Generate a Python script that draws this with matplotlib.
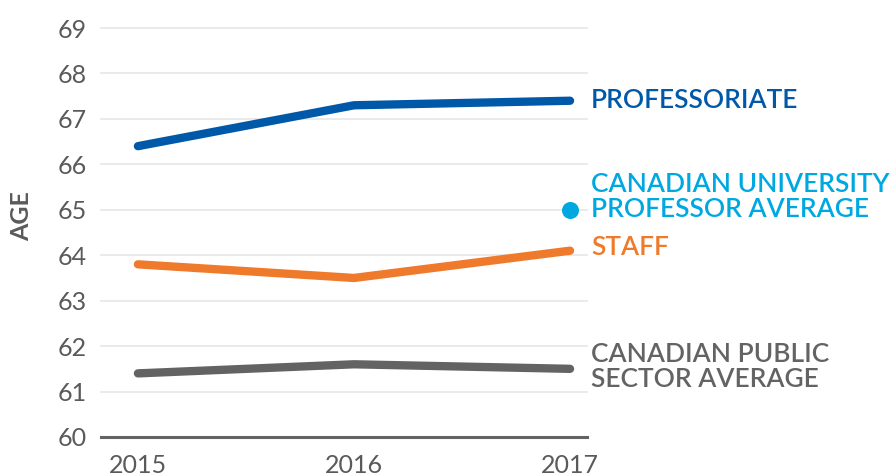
import matplotlib
import matplotlib.pyplot as plt

matplotlib.use("Agg")

years = [2015, 2016, 2017]
professoriate = [66.4, 67.3, 67.4]
staff = [63.8, 63.5, 64.1]
public_sector = [61.4, 61.6, 61.5]
univ_prof_avg = 65.0

COLORS = {
    "prof": "#0059A8",
    "univ": "#00A8E1",
    "staff": "#F07A2B",
    "public": "#636363",
    "text": "#5A5A5A",
    "grid": "#E6E6E6",
}

plt.rcParams.update({
    "font.family": ["Lato", "DejaVu Sans"],
    "font.size": 18,
})

fig = plt.figure(figsize=(8.92, 4.75), dpi=100)
ax = fig.add_axes([0.1132, 0.08, 0.545, 0.861])

for vals, key in [(public_sector, "public"), (staff, "staff"), (professoriate, "prof")]:
    ax.plot(years, vals, color=COLORS[key], lw=6, solid_capstyle="round", zorder=3)
ax.scatter([years[-1]], [univ_prof_avg], s=150, color=COLORS["univ"], zorder=3, linewidths=0)

ax.set_xlim(2014.829, 2017.079)
ax.set_ylim(60, 69)
ax.set_yticks(range(60, 70))
ax.set_xticks(years)
ax.set_xticklabels([str(y) for y in years])
ax.tick_params(length=0, labelcolor=COLORS["text"], labelsize=18)
ax.tick_params(axis="y", pad=10)
ax.tick_params(axis="x", pad=12)
ax.grid(axis="y", color=COLORS["grid"], lw=1.2, clip_on=False)
ax.set_axisbelow(True)
for s in ["top", "right", "left"]:
    ax.spines[s].set_visible(False)
ax.spines["bottom"].set_color(COLORS["public"])
ax.spines["bottom"].set_linewidth(2.2)

ax.set_ylabel("AGE", color=COLORS["text"], fontsize=18, fontweight="bold")
ax.yaxis.set_label_coords(-0.14, 0.54)

lab = dict(xycoords="data", textcoords="offset points", ha="left", va="center",
           fontsize=19, fontweight="semibold", annotation_clip=False, linespacing=1.0)
ax.annotate("PROFESSORIATE", xy=(years[-1], professoriate[-1]), xytext=(15, 0),
            color=COLORS["prof"], **lab)
ax.annotate("CANADIAN UNIVERSITY\nPROFESSOR AVERAGE", xy=(years[-1], univ_prof_avg), xytext=(15, 9),
            color=COLORS["univ"], **lab)
ax.annotate("STAFF", xy=(years[-1], staff[-1]), xytext=(15, 2),
            color=COLORS["staff"], **lab)
ax.annotate("CANADIAN PUBLIC\nSECTOR AVERAGE", xy=(years[-1], public_sector[-1]), xytext=(15, 1),
            color=COLORS["public"], **lab)

fig.savefig("out.png", dpi=100)
